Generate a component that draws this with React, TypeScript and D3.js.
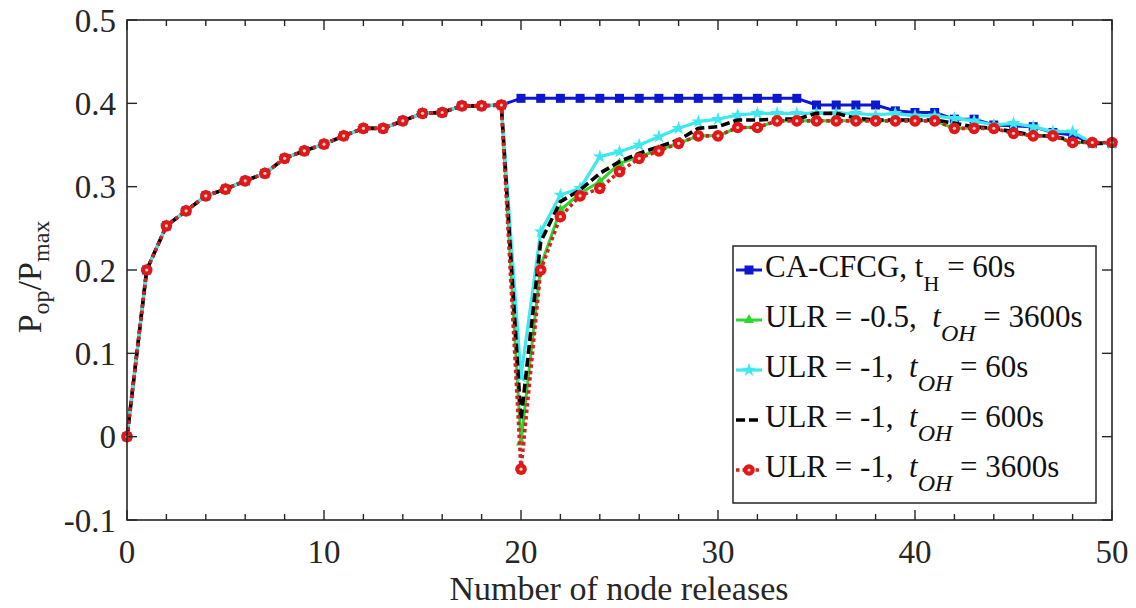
import React from "react";
import * as d3 from "d3";

const xs: number[] = d3.range(0, 51);

const caCfcg = [
  0, 0.2, 0.253, 0.271, 0.289, 0.297, 0.307, 0.316, 0.334, 0.343,
  0.351, 0.361, 0.37, 0.37, 0.379, 0.388, 0.389, 0.397, 0.397, 0.398,
  0.406, 0.406, 0.406, 0.406, 0.406, 0.406, 0.406, 0.406, 0.406, 0.406,
  0.406, 0.406, 0.406, 0.406, 0.406, 0.398, 0.398, 0.398, 0.398, 0.391,
  0.389, 0.389, 0.381, 0.381, 0.374, 0.373, 0.372, 0.365, 0.362, 0.352, 0.352,
];
const ulrHalf3600 = [
  0, 0.2, 0.253, 0.271, 0.289, 0.297, 0.307, 0.316, 0.334, 0.343,
  0.351, 0.361, 0.37, 0.37, 0.379, 0.388, 0.389, 0.397, 0.397, 0.398,
  -0.007, 0.205, 0.272, 0.292, 0.306, 0.328, 0.336, 0.344, 0.352, 0.361,
  0.361, 0.371, 0.371, 0.379, 0.379, 0.379, 0.379, 0.379, 0.379, 0.379,
  0.379, 0.379, 0.37, 0.37, 0.37, 0.364, 0.361, 0.361, 0.353, 0.353, 0.353,
];
const ulr1_60 = [
  0, 0.2, 0.253, 0.271, 0.289, 0.297, 0.307, 0.316, 0.334, 0.343,
  0.351, 0.361, 0.37, 0.37, 0.379, 0.388, 0.389, 0.397, 0.397, 0.398,
  0.072, 0.246, 0.29, 0.298, 0.336, 0.342, 0.35, 0.36, 0.37, 0.378,
  0.381, 0.386, 0.388, 0.388, 0.388, 0.388, 0.388, 0.388, 0.386, 0.388,
  0.385, 0.385, 0.382, 0.379, 0.374, 0.376, 0.372, 0.366, 0.366, 0.352, 0.352,
];
const ulr1_600 = [
  0, 0.2, 0.253, 0.271, 0.289, 0.297, 0.307, 0.316, 0.334, 0.343,
  0.351, 0.361, 0.37, 0.37, 0.379, 0.388, 0.389, 0.397, 0.397, 0.398,
  0.02, 0.234, 0.282, 0.296, 0.316, 0.33, 0.34, 0.348, 0.356, 0.37,
  0.372, 0.38, 0.38, 0.381, 0.381, 0.388, 0.388, 0.382, 0.38, 0.38,
  0.38, 0.38, 0.376, 0.372, 0.37, 0.366, 0.362, 0.36, 0.356, 0.352, 0.352,
];
const ulr1_3600 = [
  0, 0.2, 0.253, 0.271, 0.289, 0.297, 0.307, 0.316, 0.334, 0.343,
  0.351, 0.361, 0.37, 0.37, 0.379, 0.388, 0.389, 0.397, 0.397, 0.398,
  -0.039, 0.2, 0.264, 0.289, 0.298, 0.318, 0.334, 0.343, 0.352, 0.361,
  0.361, 0.371, 0.371, 0.379, 0.379, 0.379, 0.379, 0.379, 0.379, 0.379,
  0.379, 0.379, 0.37, 0.37, 0.37, 0.364, 0.361, 0.361, 0.353, 0.353, 0.353,
];

const xTicks = [0, 10, 20, 30, 40, 50];
const xMinorTicks = d3.range(0, 51, 2);
const yTicks = [-0.1, 0, 0.1, 0.2, 0.3, 0.4, 0.5];
const yTickLabels = ["-0.1", "0", "0.1", "0.2", "0.3", "0.4", "0.5"];

const FONT = '"Liberation Serif", "Times New Roman", serif';
const AX = "#262626";

type Series = {
  key: string;
  values: number[];
  color: string;
  width: number;
  dash?: string;
  marker: "square" | "triangle" | "star" | "none" | "circle";
};

const series: Series[] = [
  { key: "blue", values: caCfcg, color: "#0c18cf", width: 3, marker: "square" },
  { key: "green", values: ulrHalf3600, color: "#2fd62f", width: 3, marker: "triangle" },
  { key: "cyan", values: ulr1_60, color: "#3ee8ee", width: 3.2, marker: "star" },
  { key: "black", values: ulr1_600, color: "#000000", width: 3.6, dash: "9 4", marker: "none" },
  { key: "red", values: ulr1_3600, color: "#d42222", width: 3.6, dash: "3.5 3", marker: "circle" },
];

function Marker({ type, x, y, color }: { type: string; x: number; y: number; color: string }) {
  if (type === "square") return <rect x={x - 4.5} y={y - 4.5} width={9} height={9} fill={color} />;
  if (type === "triangle") {
    const p = d3.symbol().type(d3.symbolTriangle).size(45)();
    return <path d={p || ""} transform={`translate(${x},${y})`} fill={color} />;
  }
  if (type === "star") {
    const p = d3.symbol().type(d3.symbolStar).size(60)();
    return <path d={p || ""} transform={`translate(${x},${y})`} fill={color} />;
  }
  if (type === "circle")
    return (
      <g>
        <circle cx={x} cy={y} r={5.8} fill="#e01818" />
        <circle cx={x} cy={y} r={1.6} fill="#ffd0d0" />
      </g>
    );
  return null;
}

export default function App() {
  const W = 1136;
  const H = 608;
  const x = d3.scaleLinear().domain([0, 50]).range([127, 1112]);
  const y = d3.scaleLinear().domain([-0.1, 0.5]).range([520, 20]);
  const line = d3
    .line<number>()
    .x((_, i) => x(xs[i]))
    .y((d) => y(d));

  const [x0, x1] = x.range();
  const [yb, yt] = y.range();

  const legendItems = [
    { s: series[0], kind: "h" as const, pre: "CA-CFCG, t", sub: "H", post: " = 60s" },
    { s: series[1], kind: "oh" as const, pre: "ULR = -0.5,  ", sub: "OH", post: " = 3600s" },
    { s: series[2], kind: "oh" as const, pre: "ULR = -1,  ", sub: "OH", post: " = 60s" },
    { s: series[3], kind: "oh" as const, pre: "ULR = -1,  ", sub: "OH", post: " = 600s" },
    { s: series[4], kind: "oh" as const, pre: "ULR = -1,  ", sub: "OH", post: " = 3600s" },
  ];

  return (
    <svg
      width={W}
      height={H}
      style={{ position: "absolute", left: 0, top: 0, background: "#fff" }}
      fontFamily={FONT}
    >
      <rect x={0} y={0} width={W} height={H} fill="#fff" />
      {/* series */}
      {series.map((s) => (
        <g key={s.key}>
          <path
            d={line(s.values) || ""}
            fill="none"
            stroke={s.color}
            strokeWidth={s.width}
            strokeDasharray={s.dash}
            strokeLinejoin="round"
          />
          {s.values.map((v, i) => (
            <Marker key={i} type={s.marker} x={x(xs[i])} y={y(v)} color={s.color} />
          ))}
        </g>
      ))}

      {/* axes box */}
      <rect x={x0} y={yt} width={x1 - x0} height={yb - yt} fill="none" stroke={AX} strokeWidth={1.6} />
      {xMinorTicks.map((t) => {
        const major = t % 10 === 0;
        const len = major ? 10 : 6;
        return (
          <g key={`xt${t}`} stroke={AX} strokeWidth={1.4}>
            <line x1={x(t)} x2={x(t)} y1={yb} y2={yb - len} />
            <line x1={x(t)} x2={x(t)} y1={yt} y2={yt + len} />
          </g>
        );
      })}
      {yTicks.map((t) => (
        <g key={`yt${t}`} stroke={AX} strokeWidth={1.4}>
          <line x1={x0} x2={x0 + 10} y1={y(t)} y2={y(t)} />
          <line x1={x1} x2={x1 - 10} y1={y(t)} y2={y(t)} />
        </g>
      ))}
      {xTicks.map((t) => (
        <text key={`xl${t}`} x={x(t)} y={563} textAnchor="middle" fontSize={33} fill={AX}>
          {t}
        </text>
      ))}
      {yTicks.map((t, i) => (
        <text key={`yl${t}`} x={116} y={y(t) + 11.5} textAnchor="end" fontSize={33} fill={AX}>
          {yTickLabels[i]}
        </text>
      ))}

      {/* axis labels */}
      <text x={619} y={600} textAnchor="middle" fontSize={34} fill={AX}>
        Number of node releases
      </text>
      <text transform="translate(41,277) rotate(-90)" textAnchor="middle" fontSize={34} fill={AX}>
        P<tspan fontSize={24} dy={8}>op</tspan>
        <tspan dy={-8}>/P</tspan>
        <tspan fontSize={24} dy={8}>max</tspan>
      </text>

      {/* legend */}
      <rect x={733} y={246} width={363} height={257} fill="#fff" stroke={AX} strokeWidth={1.5} />
      {legendItems.map((it, i) => {
        const base = 277 + i * 50;
        const ly = base - 7;
        const s = it.s;
        return (
          <g key={`lg${i}`}>
            <line
              x1={736}
              x2={762}
              y1={ly}
              y2={ly}
              stroke={s.color}
              strokeWidth={s.width}
              strokeDasharray={s.dash}
            />
            <Marker type={s.marker} x={749} y={ly} color={s.color} />
            <text x={765} y={base} fontSize={31} fill="#111" style={{ whiteSpace: "pre" }}>
              {it.kind === "h" ? (
                <>
                  {it.pre}
                  <tspan fontSize={22} dy={14}>{it.sub}</tspan>
                  <tspan dy={-14}>{it.post}</tspan>
                </>
              ) : (
                <>
                  {it.pre}
                  <tspan fontStyle="italic">t</tspan>
                  <tspan fontSize={24} fontStyle="italic" dy={14}>{it.sub}</tspan>
                  <tspan dy={-14}>{it.post}</tspan>
                </>
              )}
            </text>
          </g>
        );
      })}
    </svg>
  );
}
